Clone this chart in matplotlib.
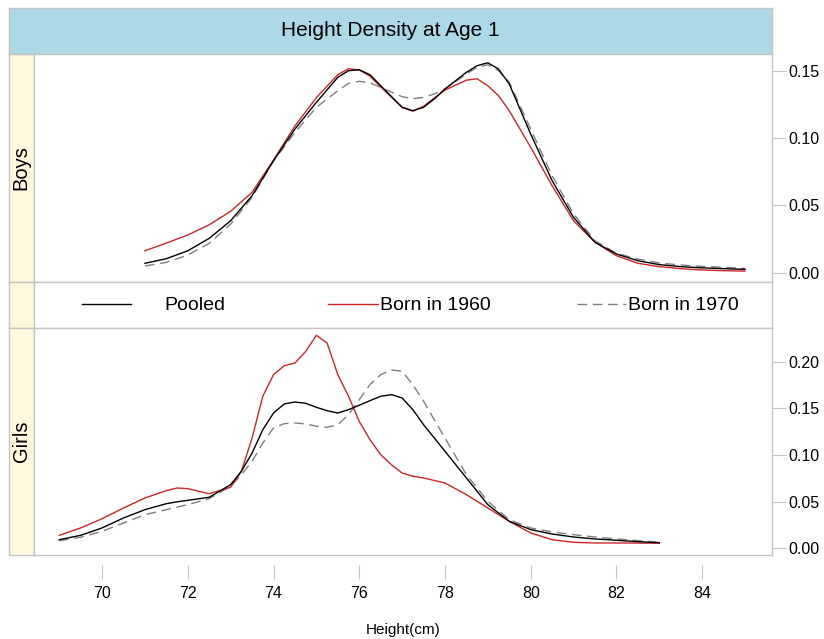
import matplotlib
matplotlib.use("Agg")
import matplotlib.pyplot as plt

plt.rcParams["font.family"] = ["Liberation Sans", "DejaVu Sans"]
plt.rcParams["lines.solid_joinstyle"] = "round"
plt.rcParams["lines.dash_joinstyle"] = "round"

# Height density at age 1
boys_x = [71, 71.5, 72, 72.5, 73, 73.5, 74, 74.5, 75, 75.5, 75.75, 76, 76.25,
          76.5, 77, 77.25, 77.5, 77.75, 78, 78.5, 78.75, 79, 79.25, 79.5, 80,
          80.5, 81, 81.5, 82, 82.5, 83, 83.5, 84, 84.5, 85]
boys_pooled = [0.0070, 0.0104, 0.0163, 0.0255, 0.0386, 0.0572, 0.0832, 0.1067,
               0.1265, 0.1451, 0.1500, 0.1507, 0.1470, 0.1389, 0.1228, 0.1203,
               0.1228, 0.1290, 0.1364, 0.1488, 0.1537, 0.1559, 0.1512, 0.1401,
               0.1030, 0.0683, 0.0411, 0.0226, 0.0139, 0.0089, 0.0060, 0.0045,
               0.0036, 0.0030, 0.0025]
boys_1960 = [0.0163, 0.0220, 0.0280, 0.0356, 0.0456, 0.0597, 0.0837, 0.1090,
             0.1300, 0.1470, 0.1515, 0.1505, 0.1460, 0.1380, 0.1228, 0.1200,
             0.1235, 0.1297, 0.1356, 0.1430, 0.1440, 0.1388, 0.1314, 0.1203,
             0.0931, 0.0646, 0.0386, 0.0226, 0.0126, 0.0070, 0.0045, 0.0030,
             0.0020, 0.0015, 0.0012]
boys_1970 = [0.0050, 0.0077, 0.0131, 0.0218, 0.0361, 0.0560, 0.0830, 0.1042,
             0.1228, 0.1351, 0.1406, 0.1421, 0.1410, 0.1376, 0.1307, 0.1292,
             0.1302, 0.1327, 0.1364, 0.1476, 0.1525, 0.1544, 0.1500, 0.1414,
             0.1067, 0.0720, 0.0436, 0.0238, 0.0144, 0.0102, 0.0072, 0.0057,
             0.0047, 0.0040, 0.0032]

girls_x = [69, 69.5, 70, 70.5, 71, 71.5, 71.75, 72, 72.5, 73, 73.25, 73.5,
           73.75, 74, 74.25, 74.5, 74.75, 75, 75.25, 75.5, 75.75, 76, 76.25,
           76.5, 76.75, 77, 77.25, 77.5, 78, 78.5, 79, 79.5, 80, 80.5, 81,
           81.5, 82, 82.5, 83]
girls_pooled = [0.0092, 0.0139, 0.0218, 0.0325, 0.0414, 0.0478, 0.0498, 0.0514,
                0.0547, 0.0682, 0.0825, 0.1021, 0.1271, 0.1450, 0.1547, 0.1568,
                0.1554, 0.1511, 0.1475, 0.1450, 0.1486, 0.1533, 0.1582, 0.1629,
                0.1647, 0.1611, 0.1486, 0.1325, 0.1040, 0.0754, 0.0468, 0.0289,
                0.0200, 0.0153, 0.0121, 0.0100, 0.0086, 0.0071, 0.0060]
girls_1960 = [0.0139, 0.0218, 0.0317, 0.0432, 0.0539, 0.0618, 0.0646, 0.0639,
              0.0585, 0.0654, 0.0825, 0.1182, 0.1630, 0.1861, 0.1957, 0.1986,
              0.2110, 0.2283, 0.2200, 0.1861, 0.1630, 0.1360, 0.1164, 0.1004,
              0.0896, 0.0807, 0.0772, 0.0754, 0.0700, 0.0575, 0.0432, 0.0289,
              0.0164, 0.0092, 0.0064, 0.0057, 0.0057, 0.0056, 0.0054]
girls_1970 = [0.0081, 0.0118, 0.0182, 0.0271, 0.0360, 0.0414, 0.0442, 0.0468,
              0.0532, 0.0665, 0.0789, 0.0932, 0.1129, 0.1290, 0.1336, 0.1343,
              0.1333, 0.1308, 0.1297, 0.1325, 0.1432, 0.1593, 0.1754, 0.1861,
              0.1911, 0.1897, 0.1754, 0.1576, 0.1182, 0.0789, 0.0504, 0.0307,
              0.0218, 0.0175, 0.0146, 0.0121, 0.0100, 0.0082, 0.0064]

series_labels = ["Pooled", "Born in 1960", "Born in 1970"]
x_ticks = [70, 72, 74, 76, 78, 80, 82, 84]
boys_ticks = [0.00, 0.05, 0.10, 0.15]
girls_ticks = [0.00, 0.05, 0.10, 0.15, 0.20]

W, H = 824, 639
BORDER = "#C4C4C4"
RED = "#CD2626"
DASH_GREY = "#7F7F7F"
STRIP_TOP = "#ADD8E6"
STRIP_LEFT = "#FFF8DC"


def box(x0, y0, x1, y1):
    # pixel box measured from the top left -> figure fraction
    return [x0 / W, 1 - y1 / H, (x1 - x0) / W, (y1 - y0) / H]


def frame(ax):
    for sp in ax.spines.values():
        sp.set_color(BORDER)
        sp.set_linewidth(1.0)


def strip(rect, color, text=None, rotation=0, size=14.5):
    ax = fig.add_axes(rect, facecolor=color)
    ax.set_xticks([])
    ax.set_yticks([])
    frame(ax)
    if text:
        ax.text(0.5, 0.5, text, ha="center", va="center", rotation=rotation,
                fontsize=size, transform=ax.transAxes)
    return ax


def draw_series(ax, x, pooled, b1960, b1970):
    ax.plot(x, b1970, color=DASH_GREY, lw=1.0, linestyle=(0, (7, 4)))
    ax.plot(x, b1960, color=RED, lw=1.0)
    ax.plot(x, pooled, color="black", lw=1.0)


fig = plt.figure(figsize=(8.24, 6.39), dpi=100)

XLIM = (68.40, 85.63)

# title strip and left strips
strip(box(8.5, 8, 772, 54), STRIP_TOP, "Height Density at Age 1", size=15)
strip(box(8.5, 54, 33.5, 282), STRIP_LEFT, "Boys", rotation=90)
strip(box(8.5, 282, 33.5, 328), STRIP_LEFT)
strip(box(8.5, 328, 33.5, 555), STRIP_LEFT, "Girls", rotation=90)

# boys panel
ax1 = fig.add_axes(box(33.5, 54, 772, 282))
draw_series(ax1, boys_x, boys_pooled, boys_1960, boys_1970)
ax1.set_xlim(*XLIM)
ax1.set_ylim(-0.0069, 0.1624)
ax1.yaxis.tick_right()
ax1.set_yticks(boys_ticks)
ax1.set_yticklabels([f"{t:.2f}" for t in boys_ticks])
ax1.tick_params(axis="y", length=10, width=0.8, color=BORDER, labelsize=11.5, pad=2)
ax1.tick_params(axis="x", bottom=False, labelbottom=False)
frame(ax1)

# legend row
axl = fig.add_axes(box(33.5, 282, 772, 328))
axl.set_xlim(33.5, 772)
axl.set_ylim(0, 1)
axl.set_xticks([])
axl.set_yticks([])
frame(axl)
key_lines = [(82, 131, "black", "-", 164),
             (328, 378, RED, "-", 380),
             (577, 626, DASH_GREY, (0, (7, 4)), 628)]
for (x0, x1, c, ls, tx), lab in zip(key_lines, series_labels):
    axl.plot([x0, x1], [0.52, 0.52], color=c, linestyle=ls, lw=1.0)
    axl.text(tx, 0.5, lab, ha="left", va="center", fontsize=14)

# girls panel
ax2 = fig.add_axes(box(33.5, 328, 772, 555))
draw_series(ax2, girls_x, girls_pooled, girls_1960, girls_1970)
ax2.set_xlim(*XLIM)
ax2.set_ylim(-0.0072, 0.2361)
ax2.yaxis.tick_right()
ax2.set_yticks(girls_ticks)
ax2.set_yticklabels([f"{t:.2f}" for t in girls_ticks])
ax2.tick_params(axis="y", length=10, width=0.8, color=BORDER, labelsize=11.5, pad=2)
frame(ax2)
# x ticks sit a little below the panel border
ax2.spines["bottom"].set_position(("outward", 7))
ax2.spines["bottom"].set_visible(False)
ax2.plot([0, 1], [0, 0], transform=ax2.transAxes, color=BORDER, lw=1.0,
         clip_on=False)
ax2.set_xticks(x_ticks)
ax2.set_xticklabels([str(t) for t in x_ticks])
ax2.tick_params(axis="x", length=10, width=0.8, color=BORDER, labelsize=11.5, pad=5)

fig.text(402.75 / W, 1 - 630 / H, "Height(cm)", ha="center", va="center",
         fontsize=11)

fig.savefig("out.png", dpi=100)
